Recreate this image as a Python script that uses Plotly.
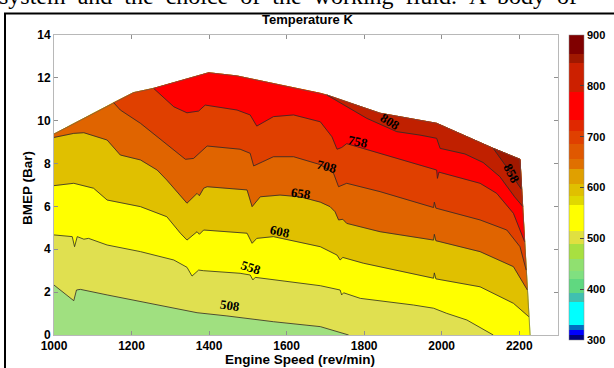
import plotly.graph_objects as go

# ---------------- data ----------------
# operating envelope (upper limit of BMEP vs speed)
env_speed = [1000, 1154, 1205, 1257, 1399, 1472, 1583, 1687, 1704, 1841, 1987, 2133, 2202]
env_bmep = [9.38, 10.84, 11.31, 11.51, 12.24, 12.09, 11.67, 11.28, 11.20, 10.35, 9.88, 8.71, 8.20]
right_edge_speed = [2228, 2202]
right_edge_bmep = [0.0, 8.20]

levels = [508, 558, 608, 658, 708, 758, 808, 858]

iso_508_speed = [1000, 1042, 1051, 1058, 1068, 1137, 1223, 1309, 1369, 1446, 1566, 1687, 1760]
iso_508_bmep = [2.33, 1.71, 1.60, 2.10, 2.13, 1.87, 1.55, 1.24, 1.04, 0.89, 0.62, 0.39, 0.0]

iso_558_speed = [1000, 1047, 1053, 1060, 1077, 1089, 1137, 1223, 1309, 1343, 1356, 1373, 1386, 1480, 1506,
                 1513, 1519, 1687, 1738, 1742, 1747, 1790, 1927, 1979, 2013, 2065, 2133]
iso_558_bmep = [4.67, 4.59, 4.12, 4.59, 4.47, 4.51, 4.20, 3.89, 3.50, 3.16, 2.75, 3.03, 3.00, 2.88, 2.80,
                2.57, 2.69, 2.30, 2.10, 1.87, 1.97, 1.71, 1.40, 1.25, 1.01, 0.70, 0.0]

iso_608_speed = [1000, 1051, 1102, 1137, 1223, 1291, 1326, 1343, 1369, 1375, 1386, 1498, 1511, 1523, 1566,
                 1687, 1730, 1738, 1745, 1798, 1979, 1981, 1985, 2099, 2185, 2225]
iso_608_bmep = [6.97, 7.08, 6.85, 6.30, 5.99, 5.52, 4.75, 4.43, 4.82, 4.70, 4.90, 4.75, 4.28, 4.51, 4.59,
                4.12, 3.73, 3.50, 3.62, 3.35, 2.65, 2.90, 2.62, 2.25, 1.48, 0.85]

iso_658_speed = [1000, 1051, 1077, 1137, 1171, 1223, 1266, 1291, 1343, 1369, 1375, 1386, 1395, 1498, 1511,
                 1532, 1583, 1635, 1687, 1712, 1725, 1734, 1745, 1755, 1841, 1979, 1981, 1985, 2099, 2185, 2221]
iso_658_bmep = [9.22, 9.41, 9.44, 9.10, 8.40, 8.17, 7.70, 7.23, 6.15, 6.61, 6.50, 6.85, 6.92, 6.77, 5.99,
                6.45, 6.53, 6.45, 6.20, 5.99, 5.75, 5.37, 5.40, 5.21, 4.82, 4.43, 4.70, 4.40, 3.89, 3.19, 2.10]

iso_708_speed = [1154, 1171, 1223, 1266, 1309, 1339, 1360, 1395, 1480, 1506, 1515, 1566, 1618, 1687, 1721,
                 1734, 1755, 1841, 1979, 1981, 1985, 2099, 2168, 2202, 2218]
iso_708_bmep = [10.84, 10.50, 9.88, 9.25, 8.63, 8.20, 8.24, 8.82, 8.67, 8.48, 7.89, 8.32, 8.32, 7.95, 7.55,
                6.92, 7.08, 6.69, 5.95, 6.20, 5.92, 5.37, 4.90, 4.12, 3.03]

iso_758_speed = [1257, 1309, 1343, 1373, 1390, 1472, 1506, 1523, 1566, 1618, 1687, 1717, 1730, 1742, 1755,
                 1858, 1987, 1989, 1993, 2099, 2142, 2185, 2214]
iso_758_bmep = [11.51, 10.65, 10.37, 10.45, 10.73, 10.50, 10.27, 9.75, 10.19, 10.27, 9.95, 9.25, 8.67, 8.75, 8.93,
                8.40, 7.70, 7.31, 7.60, 7.08, 6.61, 5.68, 4.35]

iso_808_speed = [1704, 1755, 1807, 1884, 1944, 1987, 1996, 2060, 2107, 2150, 2188, 2209]
iso_808_bmep = [11.20, 10.65, 10.11, 9.49, 9.33, 9.18, 8.71, 8.45, 8.05, 7.39, 6.45, 6.00]

iso_858_speed = [2133, 2165, 2198, 2206]
iso_858_bmep = [8.71, 7.90, 7.00, 6.80]

band_colors = ['#a0e080', '#e0e050', '#ffff00', '#e0c000', '#e06400',
               '#e04000', '#ff0000', '#c02000', '#a01800']

label_text = ['508', '558', '608', '658', '708', '758', '808', '858']
label_speed = [1455, 1508, 1583, 1638, 1705, 1783, 1866, 2181]
label_bmep = [1.38, 3.16, 4.85, 6.62, 7.88, 9.05, 9.95, 7.55]
label_angle = [8, 18, 12, 8, 15, 12, 32, 62]

cb_edges = [300, 309, 319, 329, 374, 393, 420, 436, 460, 489, 515, 565, 584, 607, 637, 657,
            686, 712, 732, 788, 844, 863, 900]
cb_colors = ['#00007f', '#0000ff', '#0070c0', '#00ffff', '#40c0b0', '#60d880', '#80e080', '#90e070',
             '#a8e040', '#e0e040', '#ffff00', '#e0d800', '#e0c000', '#e0a000', '#e07000', '#e05800',
             '#e04000', '#e02800', '#ff0000', '#cc2000', '#a01800', '#800000']

x_ticks = [1000, 1200, 1400, 1600, 1800, 2000, 2200]
y_ticks = [0, 2, 4, 6, 8, 10, 12, 14]
cb_ticks = [300, 400, 500, 600, 700, 800, 900]

page_words = ['system', 'and', 'the', 'choice', 'of', 'the', 'working', 'fluid.', 'A', 'body', 'of']

isos = [(iso_508_speed, iso_508_bmep), (iso_558_speed, iso_558_bmep), (iso_608_speed, iso_608_bmep),
        (iso_658_speed, iso_658_bmep), (iso_708_speed, iso_708_bmep), (iso_758_speed, iso_758_bmep),
        (iso_808_speed, iso_808_bmep), (iso_858_speed, iso_858_bmep)]

# ---------------- boundary of the operating region ----------------
B = [(1000, 0.0), (right_edge_speed[0], right_edge_bmep[0])]
B += list(zip(env_speed[::-1], env_bmep[::-1]))
n = len(B)

XS, YS = 0.388, 21.43  # approximate px per unit for distance computation


def bparam(p):
    best = None
    for i in range(n):
        a, b = B[i], B[(i + 1) % n]
        ax, ay = a[0] * XS, a[1] * YS
        bx, by = b[0] * XS, b[1] * YS
        px, py = p[0] * XS, p[1] * YS
        dx, dy = bx - ax, by - ay
        L = dx * dx + dy * dy
        t = 0.0 if L == 0 else max(0.0, min(1.0, ((px - ax) * dx + (py - ay) * dy) / L))
        d = (ax + t * dx - px) ** 2 + (ay + t * dy - py) ** 2
        if best is None or d < best[0]:
            best = (d, i + t)
    return best[1]


fig = go.Figure()

# base band (lowest temperatures)
bx = [p[0] for p in B] + [B[0][0]]
by = [p[1] for p in B] + [B[0][1]]
fig.add_trace(go.Scatter(x=bx, y=by, mode='lines', fill='toself', fillcolor=band_colors[0],
                         line=dict(color=band_colors[0], width=0.5), hoverinfo='skip', showlegend=False))

# superlevel regions, stacked
for k, (sp, bm) in enumerate(isos):
    curve = list(zip(sp, bm))
    s0 = bparam(curve[0])
    s1 = bparam(curve[-1])
    verts = [B[j] for j in range(n) if s1 < j < s0]
    poly = curve + verts + [curve[0]]
    fig.add_trace(go.Scatter(x=[p[0] for p in poly], y=[p[1] for p in poly], mode='lines',
                             fill='toself', fillcolor=band_colors[k + 1],
                             line=dict(color=band_colors[k + 1], width=0.5),
                             hoverinfo='skip', showlegend=False))

# contour lines
for sp, bm in isos:
    fig.add_trace(go.Scatter(x=sp, y=bm, mode='lines', line=dict(color='#2a2a2a', width=0.8),
                             hoverinfo='skip', showlegend=False))

# envelope outline
ox = env_speed + right_edge_speed[::-1]
oy = env_bmep + right_edge_bmep[::-1]
fig.add_trace(go.Scatter(x=ox, y=oy, mode='lines', line=dict(color='#555555', width=0.6),
                         hoverinfo='skip', showlegend=False))

# colorbar via dummy trace
cs = []
for i, c in enumerate(cb_colors):
    a = (cb_edges[i] - 300) / 600
    b = (cb_edges[i + 1] - 300) / 600
    cs.append([a, c])
    cs.append([b, c])

PL, PT, PW, PH = 54, 35, 504, 300


def px2x(p):
    return (p - PL) / PW


def py2y(p):
    return (PT + PH - p) / PH


fig.add_trace(go.Scatter(
    x=[1000], y=[-5], mode='markers', showlegend=False, hoverinfo='skip',
    marker=dict(color=[300], colorscale=cs, cmin=300, cmax=900, showscale=True, size=1,
                colorbar=dict(x=px2x(569), xanchor='left', xpad=0, ypad=0,
                              y=py2y(187.5), yanchor='middle', lenmode='pixels', len=305,
                              thickness=15, thicknessmode='pixels',
                              tickvals=cb_ticks, ticks='inside', ticklen=4, tickcolor='#444',
                              outlinewidth=0.5, outlinecolor='#888',
                              tickfont=dict(family='Liberation Sans, Arial', size=11,
                                            color='black', weight='bold')))))

ann = []
for t, sx, sy, ang in zip(label_text, label_speed, label_bmep, label_angle):
    ann.append(dict(x=sx, y=sy, xref='x', yref='y', text=t, showarrow=False, textangle=ang,
                    font=dict(family='Liberation Serif', size=13, color='black', weight='bold')))

ann.append(dict(x=px2x(307), y=py2y(19), xref='paper', yref='paper', text='Temperature K',
                showarrow=False, xanchor='center', yanchor='middle',
                font=dict(family='Liberation Sans, Arial', size=13, color='black', weight='bold')))
ann.append(dict(x=px2x(300), y=py2y(359), xref='paper', yref='paper', text='Engine Speed (rev/min)',
                showarrow=False, xanchor='center', yanchor='middle',
                font=dict(family='Liberation Sans, Arial', size=13.5, color='black', weight='bold')))
ann.append(dict(x=px2x(27), y=py2y(188), xref='paper', yref='paper', text='BMEP (Bar)',
                showarrow=False, xanchor='center', yanchor='middle', textangle=-90,
                font=dict(family='Liberation Sans, Arial', size=13.5, color='black', weight='bold')))
ann.append(dict(x=px2x(-3), y=py2y(-3.5), xref='paper', yref='paper',
                text=' \u00a0'.join(page_words),
                showarrow=False, xanchor='left', yanchor='middle',
                font=dict(family='Liberation Serif', size=24, color='black')))

shapes = [
    dict(type='line', xref='paper', yref='paper', x0=px2x(5), x1=px2x(5), y0=py2y(13.5), y1=py2y(380),
         line=dict(color='black', width=2)),
    dict(type='line', xref='paper', yref='paper', x0=px2x(4), x1=px2x(640), y0=py2y(13.5), y1=py2y(13.5),
         line=dict(color='black', width=2)),
]

axis_font = dict(family='Liberation Sans, Arial', size=12, color='black', weight='bold')
fig.update_layout(
    width=614, height=368,
    margin=dict(l=PL, r=614 - PL - PW, t=PT, b=368 - PT - PH, autoexpand=False),
    paper_bgcolor='white', plot_bgcolor='white',
    annotations=ann, shapes=shapes,
    xaxis=dict(range=[1000, 2300], tickvals=x_ticks, showgrid=False, zeroline=False,
               showline=True, mirror='ticks', linecolor='#b8b8b8', linewidth=1,
               ticks='inside', ticklen=4, tickcolor='#909090', tickfont=axis_font),
    yaxis=dict(range=[0, 14], tickvals=y_ticks, showgrid=False, zeroline=False,
               showline=True, mirror='ticks', linecolor='#b8b8b8', linewidth=1,
               ticks='inside', ticklen=4, tickcolor='#909090', tickfont=axis_font),
)

fig.write_html('out.html')
